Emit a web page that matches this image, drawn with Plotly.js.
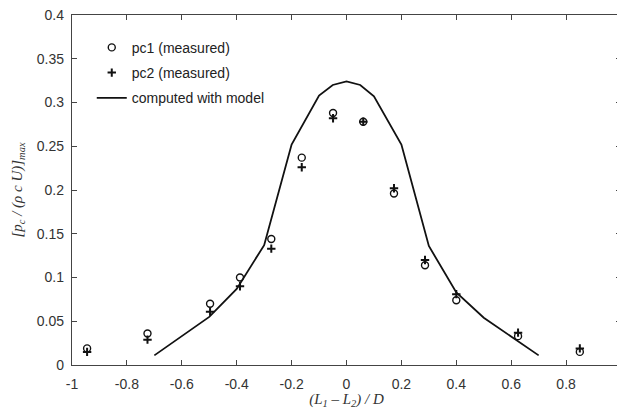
<!DOCTYPE html>
<html>
<head>
<meta charset="utf-8">
<script src="https://cdn.plot.ly/plotly-3.0.1.min.js"></script>
<style>
html, body { margin: 0; padding: 0; overflow: hidden; background: #fff; }
#chart { width: 621px; height: 409px; }
</style>
</head>
<body>
<div id="chart"></div>
<script>
// Measured positions (L1 - L2)/D
const xMeasured = [-0.945, -0.725, -0.497, -0.388, -0.274, -0.163, -0.049, 0.061, 0.173, 0.286, 0.400, 0.625, 0.850];
// pc1 (measured) - circles
const pc1 = [0.019, 0.036, 0.070, 0.100, 0.144, 0.237, 0.288, 0.278, 0.196, 0.114, 0.074, 0.033, 0.015];
// pc2 (measured) - plus signs
const pc2 = [0.015, 0.029, 0.061, 0.090, 0.133, 0.226, 0.282, 0.278, 0.202, 0.120, 0.081, 0.037, 0.019];
// computed with model
const xModel = [-0.7, -0.5, -0.4, -0.3, -0.2, -0.1, -0.05, 0.0, 0.05, 0.1, 0.2, 0.3, 0.4, 0.5, 0.7];
const yModel = [0.011, 0.055, 0.087, 0.137, 0.252, 0.308, 0.320, 0.324, 0.320, 0.307, 0.252, 0.136, 0.083, 0.054, 0.011];

const xTickVals = [-1, -0.8, -0.6, -0.4, -0.2, 0, 0.2, 0.4, 0.6, 0.8, 1];
const xTickLabels = ['-1', '-0.8', '-0.6', '-0.4', '-0.2', '0', '0.2', '0.4', '0.6', '0.8', '1'];
const yTickVals = [0, 0.05, 0.1, 0.15, 0.2, 0.25, 0.3, 0.35, 0.4];
const yTickLabels = ['0', '0.05', '0.1', '0.15', '0.2', '0.25', '0.3', '0.35', '0.4'];

const names = ['pc1 (measured)', 'pc2 (measured)', 'computed with model'];

const traces = [
  {
    x: xMeasured, y: pc1, name: names[0], type: 'scatter', mode: 'markers', legendgroup: 'a',
    marker: { symbol: 'circle-open', size: 7, color: '#111', line: { width: 1.4, color: '#111' } }
  },
  {
    x: xMeasured, y: pc2, name: names[1], type: 'scatter', mode: 'markers', legendgroup: 'b',
    marker: { symbol: 'cross-thin-open', size: 6, color: '#111', line: { width: 2, color: '#111' } }
  },
  {
    x: xModel, y: yModel, name: names[2], type: 'scatter', mode: 'lines', legendgroup: 'c',
    line: { color: '#111', width: 1.8 }
  }
];

const tickFont = { family: 'Liberation Sans, Arial, sans-serif', size: 14, color: '#333' };
const serif = { family: 'Liberation Serif, Times New Roman, serif', size: 15, color: '#333' };

const layout = {
  width: 621, height: 409,
  margin: { l: 72, r: 0, t: 15, b: 44 },
  paper_bgcolor: '#fff', plot_bgcolor: '#fff',
  showlegend: true,
  legend: {
    x: 0.036, xanchor: 'left', y: 0.952, yanchor: 'top',
    bgcolor: 'rgba(0,0,0,0)', borderwidth: 0,
    font: { family: 'Liberation Sans, Arial, sans-serif', size: 14, color: '#222' },
    tracegroupgap: 4, itemwidth: 30
  },
  xaxis: {
    range: [-1, 1], tickmode: 'array', tickvals: xTickVals, ticktext: xTickLabels,
    ticks: 'inside', ticklen: 5, tickwidth: 1, tickcolor: '#444',
    showline: true, linecolor: '#444', linewidth: 1.2, mirror: 'ticks',
    showgrid: false, zeroline: false, tickfont: tickFont, ticklabelstandoff: 6,
    title: { text: '<i>(L<sub>1</sub> – L<sub>2</sub>) / D</i>', font: serif, standoff: 5 }
  },
  yaxis: {
    range: [0, 0.4], tickmode: 'array', tickvals: yTickVals, ticktext: yTickLabels,
    ticks: 'inside', ticklen: 5, tickwidth: 1, tickcolor: '#444',
    showline: true, linecolor: '#444', linewidth: 1.2, mirror: 'ticks',
    showgrid: false, zeroline: false, tickfont: tickFont, ticklabelstandoff: 4,
    title: { text: '<i>[p<sub>c</sub> / (ρ c U)]<sub>max</sub></i>', font: serif, standoff: 10 }
  }
};

Plotly.newPlot('chart', traces, layout, { staticPlot: true, displayModeBar: false });
</script>
</body>
</html>
